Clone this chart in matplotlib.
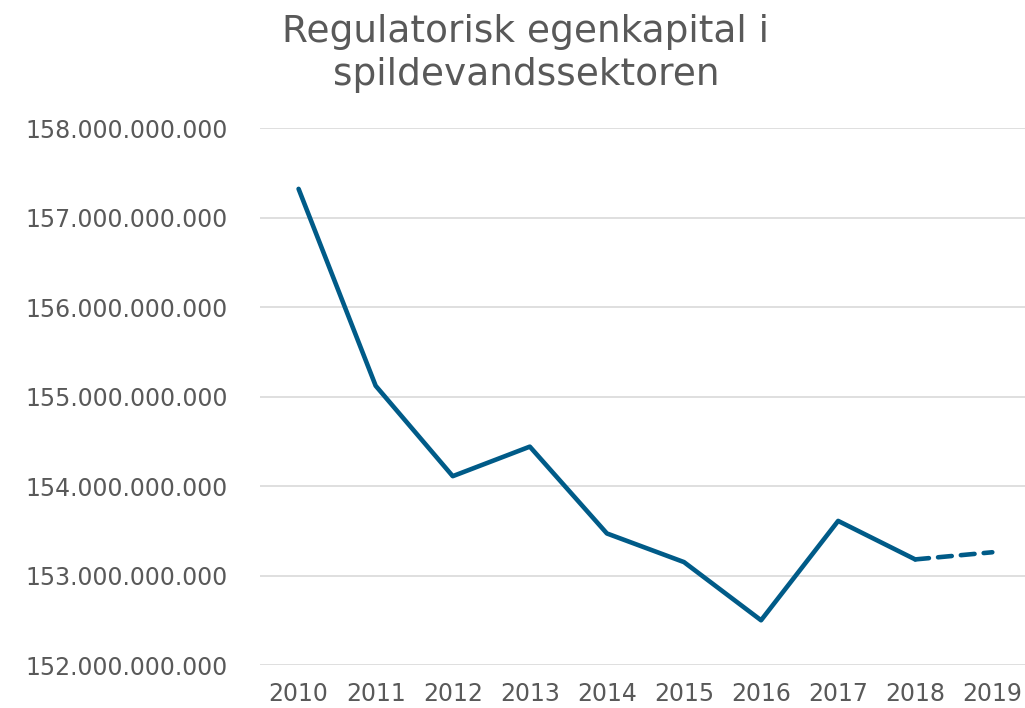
import numpy as np
import matplotlib.pyplot as plt
from matplotlib.ticker import FuncFormatter

years = ['2010', '2011', '2012', '2013', '2014', '2015', '2016', '2017', '2018', '2019']
kapital = [157.32e9, 155.12e9, 154.11e9, 154.44e9, 153.47e9, 153.15e9,
           152.50e9, 153.61e9, 153.18e9, 153.26e9]

text_col = '#595959'
line_col = '#005B88'

fig = plt.figure(figsize=(10.25, 7.08), dpi=100)
ax = fig.add_axes([0.2537, 0.0607, 0.752, 0.7585])

x = np.arange(len(years))
ax.plot(x[:9], kapital[:9], color=line_col, lw=3.3, solid_capstyle='round', solid_joinstyle='round')
ax.plot(x[8:], kapital[8:], color=line_col, lw=3.3, ls=(0, (3, 2)), dash_capstyle='round')

ax.set_xlim(-0.5, len(years) - 0.5)
ax.set_ylim(152e9, 158e9)
ax.set_yticks(np.arange(152e9, 158.1e9, 1e9))
ax.yaxis.set_major_formatter(FuncFormatter(lambda v, p: f'{v:,.0f}'.replace(',', '.')))
ax.set_xticks(x)
ax.set_xticklabels(years)
ax.grid(axis='y', color='#D9D9D9', lw=1.2)
ax.set_axisbelow(True)
for s in ax.spines.values():
    s.set_visible(False)
ax.tick_params(length=0, labelsize=17, colors=text_col)
ax.tick_params(axis='x', pad=12)
ax.tick_params(axis='y', pad=23)

fig.text(0.513, 0.925, 'Regulatorisk egenkapital i\nspildevandssektoren', ha='center', va='center',
         fontsize=27, color=text_col, linespacing=1.25)

fig.savefig('out.png', dpi=100)
